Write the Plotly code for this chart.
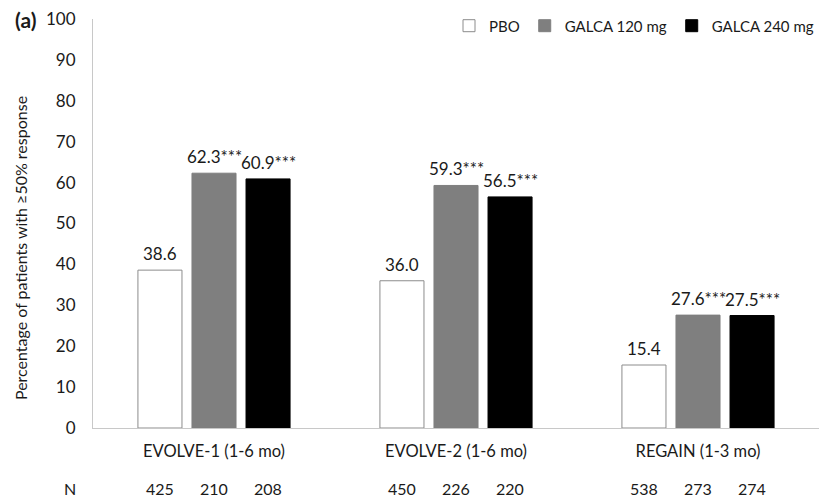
import plotly.graph_objects as go

studies = ["EVOLVE-1 (1-6 mo)", "EVOLVE-2 (1-6 mo)", "REGAIN (1-3 mo)"]
series_names = ["PBO", "GALCA 120 mg", "GALCA 240 mg"]
pbo = [38.6, 36.0, 15.4]
galca120 = [62.3, 59.3, 27.6]
galca240 = [60.9, 56.5, 27.5]
sig_pbo = ["", "", ""]
sig_120 = ["***", "***", "***"]
sig_240 = ["***", "***", "***"]
n_pbo = [425, 450, 538]
n_120 = [210, 226, 273]
n_240 = [208, 220, 274]
y_ticks = [0, 10, 20, 30, 40, 50, 60, 70, 80, 90, 100]

FONT = "Lato"
TXT = "#1a1a1a"
x_idx = list(range(len(studies)))
bargap = 0.33
bargroupgap = 0.185

values = [pbo, galca120, galca240]
sigs = [sig_pbo, sig_120, sig_240]
ns = [n_pbo, n_120, n_240]
fills = ["#ffffff", "#7f7f7f", "#000000"]
lines = ["#8c8c8c", "#7f7f7f", "#000000"]

fig = go.Figure()
for k in range(3):
    fig.add_trace(go.Bar(
        x=x_idx, y=values[k], name=series_names[k],
        marker=dict(color=fills[k], line=dict(color=lines[k], width=1)),
    ))

annotations = []
slot = (1 - bargap) / 3
for k in range(3):
    for i in x_idx:
        xc = i + (k - 1) * slot
        annotations.append(dict(
            x=xc, y=values[k][i], xref="x", yref="y",
            yshift=4, yanchor="bottom", xanchor="center",
            text=f"{values[k][i]:.1f}{sigs[k][i]}", showarrow=False,
            font=dict(family=FONT, size=17, color=TXT)))
        annotations.append(dict(
            x=xc, y=0, xref="paper" if False else "x", yref="paper",
            yshift=-60, yanchor="middle", xanchor="center",
            text=str(ns[k][i]), showarrow=False,
            font=dict(family=FONT, size=16, color=TXT)))
annotations.append(dict(x=0, y=0, xref="paper", yref="paper", xshift=-23,
                        yshift=-60, yanchor="middle", xanchor="center",
                        text="N", showarrow=False,
                        font=dict(family=FONT, size=16, color=TXT)))
annotations.append(dict(x=0, y=1, xref="paper", yref="paper", xshift=-68,
                        yshift=0, yanchor="middle", xanchor="center",
                        text="<b>(a)</b>", showarrow=False,
                        font=dict(family=FONT, size=21, color=TXT)))
annotations.append(dict(x=0, y=0.44, xref="paper", yref="paper", xshift=-73,
                        yanchor="middle", xanchor="center", textangle=-90,
                        text="Percentage of patients with ≥50% response",
                        showarrow=False,
                        font=dict(family=FONT, size=16, color=TXT)))

fig.update_layout(
    width=819, height=499,
    margin=dict(l=93, r=0, t=19, b=71),
    paper_bgcolor="white", plot_bgcolor="white",
    barmode="group", bargap=bargap, bargroupgap=bargroupgap,
    font=dict(family=FONT, size=17, color=TXT),
    showlegend=True,
    legend=dict(orientation="h", x=1, xanchor="right", y=0.983, yanchor="middle",
                font=dict(family=FONT, size=15, color=TXT),
                itemwidth=30, bgcolor="rgba(0,0,0,0)", traceorder="normal"),
    annotations=annotations,
    xaxis=dict(range=[-0.5, 2.5], tickvals=x_idx, ticktext=studies,
               showline=True, linecolor="#c8c8c8", linewidth=1,
               showgrid=False, zeroline=False, ticks="outside", ticklen=8,
               tickcolor="rgba(0,0,0,0)",
               tickfont=dict(family=FONT, size=16.5, color=TXT)),
    yaxis=dict(range=[0, 100], tickvals=y_ticks, showline=True,
               linecolor="#c8c8c8", linewidth=1, showgrid=False,
               zeroline=False, ticks="outside", ticklen=13,
               tickcolor="rgba(0,0,0,0)",
               tickfont=dict(family=FONT, size=17, color=TXT)),
)

fig.write_html("out.html", config={"displayModeBar": False},
               post_script="document.body.style.margin='0';document.body.style.overflow='hidden';")
